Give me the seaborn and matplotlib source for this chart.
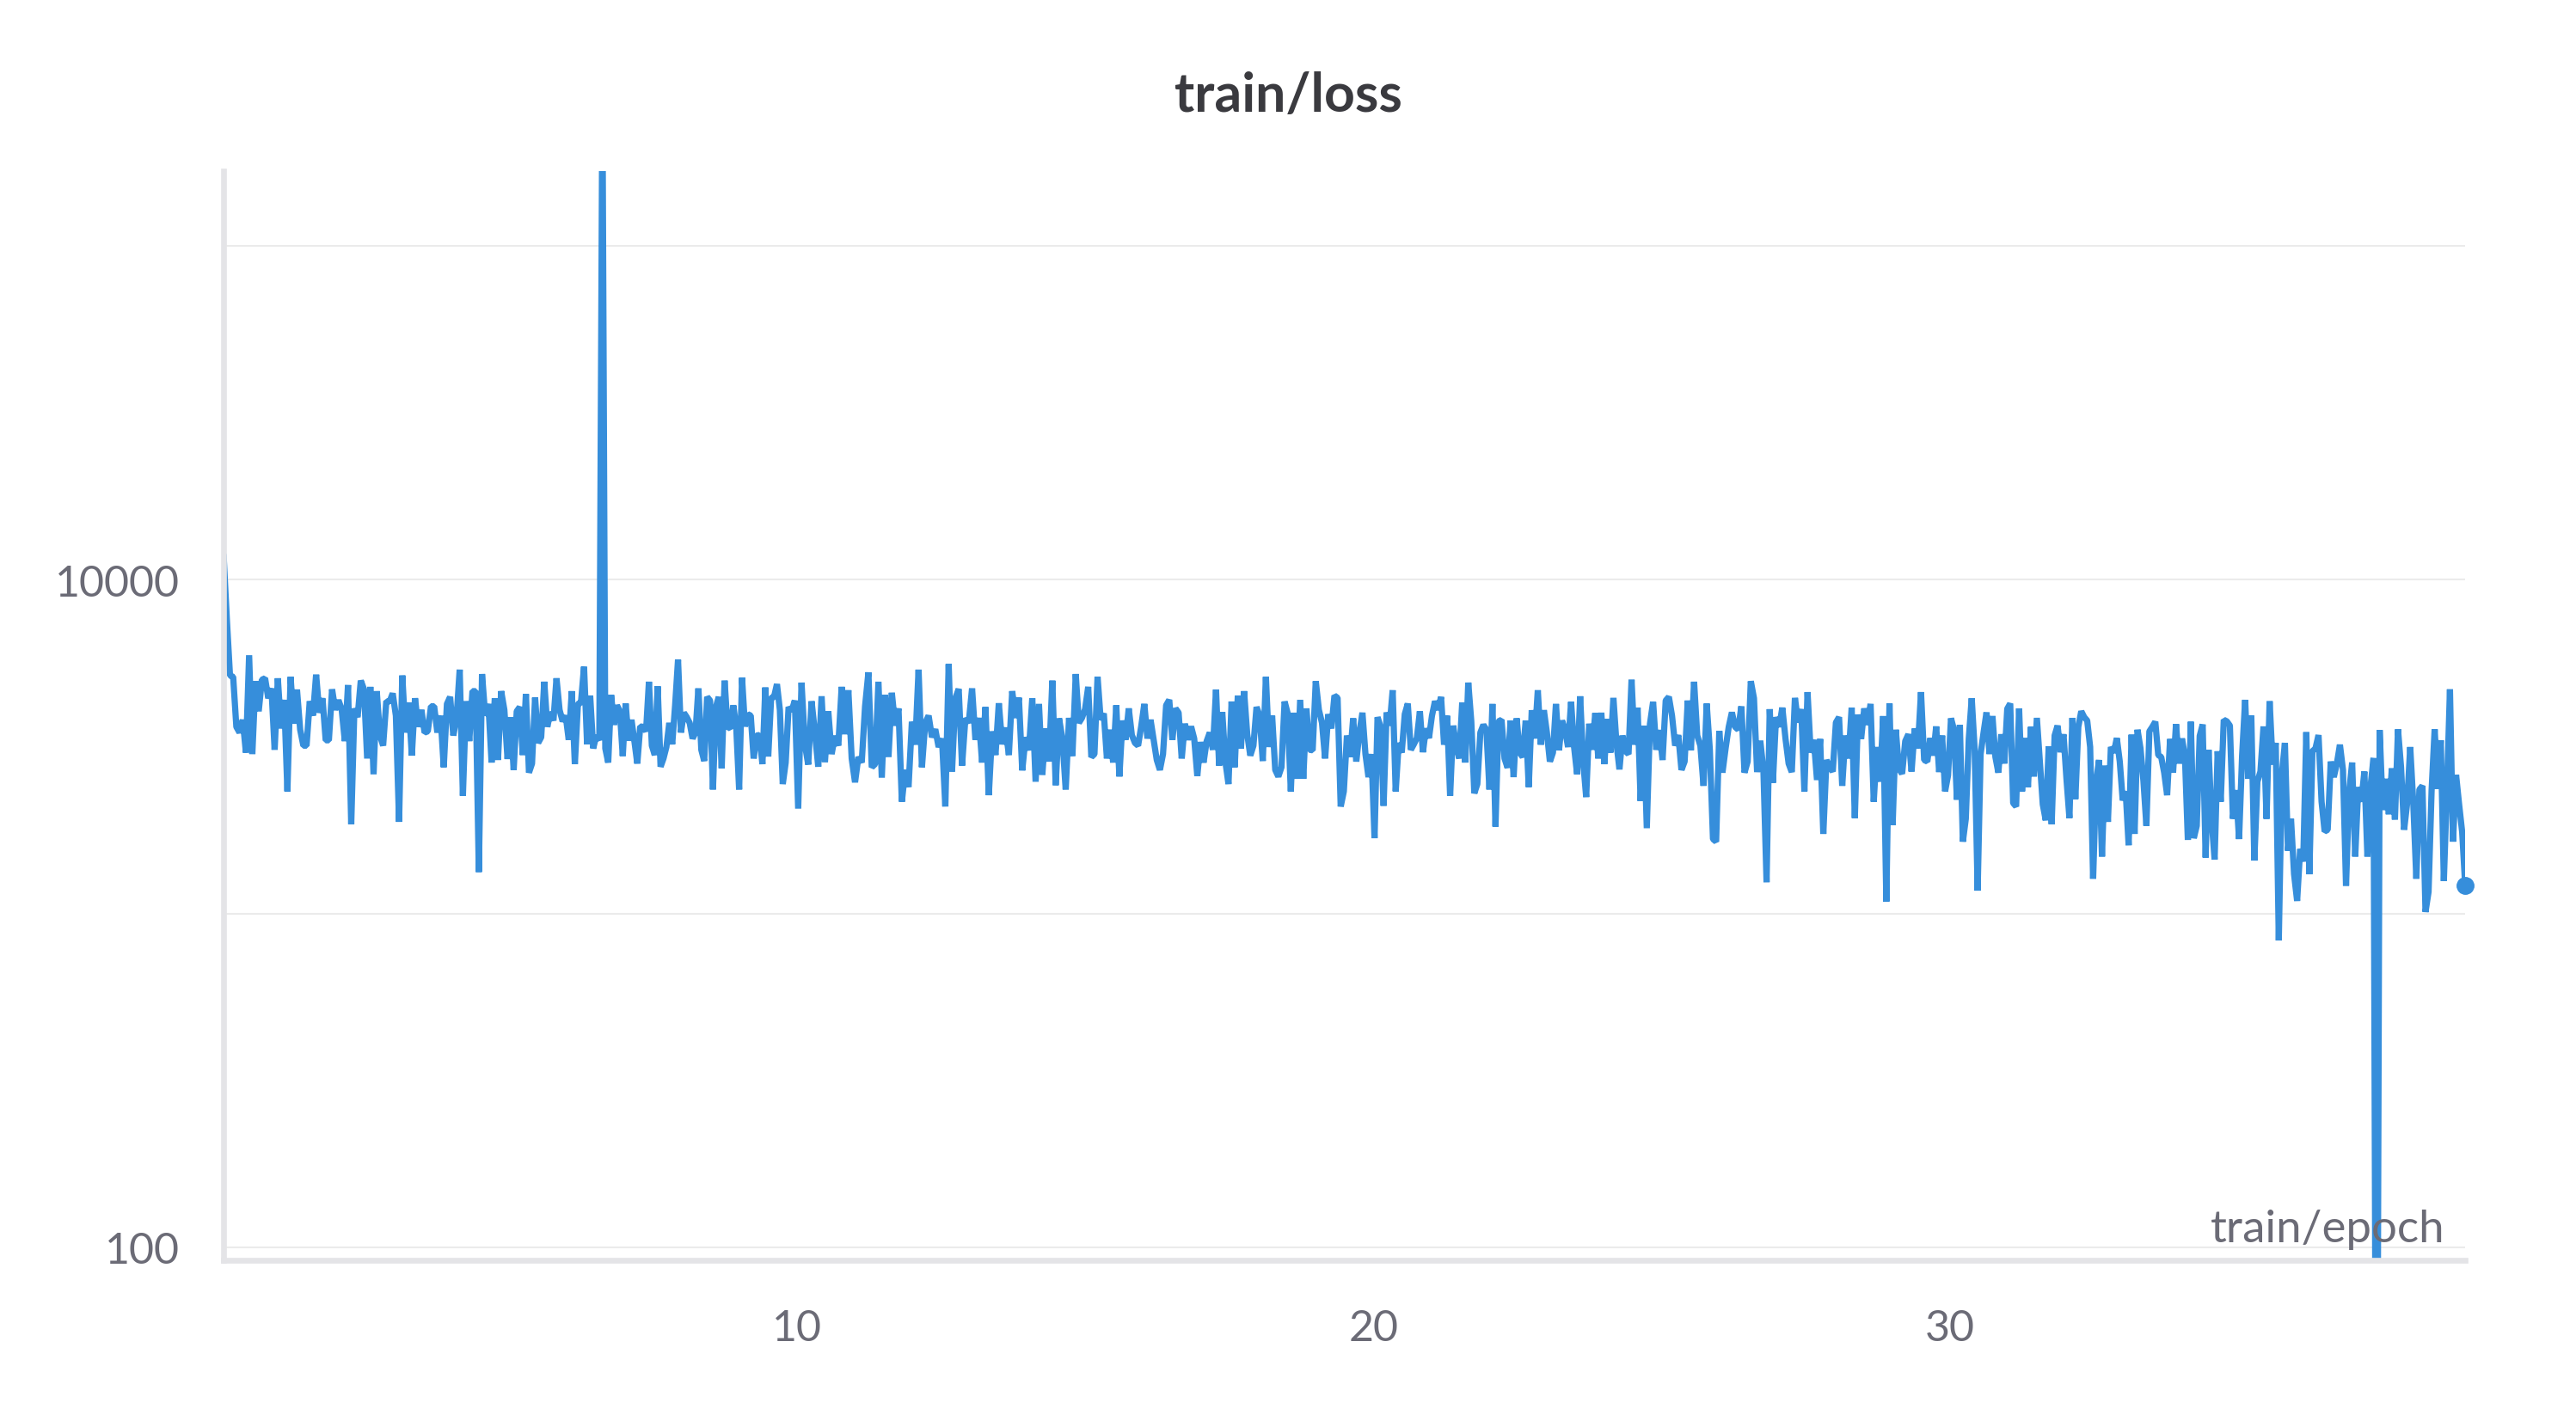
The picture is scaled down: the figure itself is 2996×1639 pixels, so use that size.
import numpy as np
import matplotlib
matplotlib.use("Agg")
import matplotlib.pyplot as plt
import seaborn as sns
from matplotlib.ticker import FixedLocator, NullFormatter

# train/loss, in chunks of a few epochs each
seg_bounds = [0.06, 4.985, 6.63, 9.91, 14.84, 19.76, 24.69, 29.61, 34.54, 38.94]

loss_seg1 = [11830, 7660, 5160, 5110, 3620, 3480, 3800, 3030, 5930, 3000, 4960, 4030, 5010, 5060, 4410,
             4720, 3090, 5060, 3580, 4360, 2320, 5110, 3700, 4680, 3550, 3180, 3180, 4320, 3910, 5190,
             3990, 4410, 3300, 3300, 4690, 4070, 4350, 4090, 3280, 4830, 1850, 4110, 3870, 4980, 4690,
             2910, 4770, 2610, 4630, 3410, 3180, 4320, 4300, 4560, 3910, 1880, 5160, 3480, 4280, 2970,
             4410, 3620, 4070, 3480, 3510, 4170, 4170, 3480, 3910, 2740, 4240, 4450, 3410, 3840, 5370,
             2250, 4320, 3280, 4630, 4630, 1330, 5210, 3910, 4240, 2830, 4410, 2880, 4630, 4070]
loss_seg2a = [2900, 3870, 2690, 4030, 4150, 2980, 4540, 2640, 2810, 4430, 3240, 3370, 4940, 3620, 4010,
              3780, 5060, 4070, 3760, 3910, 3310, 4630, 2800, 4240, 4280, 5480, 3210, 4490, 3120, 3410,
              3300]
# the spike at ~6.6 epochs runs off the top of the chart
loss_seg2b = [300000, 3120, 2830, 4510, 3670, 4200, 4030, 2960, 4250, 3290, 3800, 3280, 2810, 3630,
              3620, 3510, 4940, 3180, 2980, 4790, 2750, 2910, 3150, 3720, 3210, 4200, 5750, 3480, 3990,
              3870, 3720, 3340, 3480, 4720, 3090, 2860, 4450, 4340, 2350, 4150, 4450, 2720, 4980, 3620,
              3580, 4200, 3620, 2350, 5080, 3630, 3950, 3910, 2910, 3410, 3420, 2800, 4750, 2950, 4420,
              4450, 4860, 4070, 2440, 2830, 4150]
loss_seg3 = [4030, 4340, 2060, 4910, 3210, 2790, 4320, 3480, 2750, 4470, 2840, 4030, 3000, 3400, 3180,
             4770, 3440, 4660, 2910, 2470, 2940, 2830, 4170, 5270, 2740, 2800, 4940, 2550, 4510, 2940,
             4580, 3650, 4110, 2160, 2690, 2390, 3750, 3200, 5370, 2740, 3720, 3910, 3370, 3560, 3150,
             3340, 2090, 5580, 2660, 4410, 4700, 2770, 3840, 3720, 4720, 3310, 3850, 2830, 4150, 2260,
             3510, 2980, 4260, 3210, 3600, 2980, 4630, 3850, 4430, 2680, 3370, 3080, 4410, 2480, 4240,
             2600, 3580, 2850, 4980, 2420, 3840, 3340, 2350, 3850, 2960]
loss_seg4 = [5210, 3720, 3850, 4090, 4770, 2940, 3000, 5110, 3800, 3970, 2910, 3550, 2830, 4200, 2570,
             3780, 3310, 4110, 3420, 3240, 3180, 3630, 4240, 3340, 3800, 3310, 2880, 2690, 3000, 4200,
             4360, 3310, 4110, 3990, 2910, 3700, 3310, 3630, 3340, 2580, 3260, 2830, 3280, 3480, 3090,
             4680, 2770, 4010, 2850, 2440, 4310, 2740, 4490, 3120, 4630, 3450, 2970, 3180, 4150, 3910,
             2860, 5110, 3150, 3910, 2690, 2570, 2740, 4310, 3970, 2320, 3990, 2530, 4360, 2530, 4110,
             3090, 3080, 4960, 4070, 3720, 2910, 3950, 3580, 4490, 4420, 2090, 2320, 3410, 2940, 3840,
             2850]
loss_seg5 = [3480, 3990, 3000, 2560, 3000, 1680, 3870, 3620, 2100, 4000, 3650, 4660, 2320, 3240, 3030,
             3950, 4250, 3090, 3210, 3350, 4030, 3040, 3580, 3350, 3910, 4320, 4070, 4450, 3200, 3910,
             2250, 3650, 3180, 2910, 4280, 2830, 4910, 3760, 2290, 2440, 3480, 3670, 3550, 2350, 4240,
             1820, 3760, 3800, 2910, 2730, 3780, 2560, 3840, 3030, 2940, 3780, 2390, 4060, 3340, 4660,
             3200, 4060, 3480, 2850, 3030, 4240, 3080, 3780, 3550, 3150, 4300, 3150, 2610, 4470, 2850,
             2230, 3700, 3090, 3980, 2910, 3990, 2800, 3820, 3030, 4420, 3240, 2700, 3410, 3060, 3000,
             5010, 3200, 4130, 2170]
loss_seg6 = [3650, 1800, 3690, 4300, 3090, 3540, 2880, 4340, 4450, 3910, 3180, 3420, 2690, 2850, 4340,
             3080, 4940, 3410, 3180, 2410, 4250, 3090, 1670, 1640, 3520, 2640, 3120, 3620, 4000, 3620,
             3550, 4170, 2640, 2850, 4960, 4410, 2650, 3290, 2690, 1240, 4090, 2460, 3870, 3620, 4130,
             3340, 2810, 2650, 4420, 3730, 4090, 2320, 4600, 3030, 3310, 2510, 3330, 1730, 2880, 2740,
             2660, 3730, 3870, 2410, 3410, 2910, 4130, 1930, 3940, 3330, 4110, 3670, 4240, 2160, 3150,
             2480, 3900, 1085, 4250, 1840, 3550, 2710, 2620, 3280, 3440, 2660, 3580, 3120, 4600, 2880]
loss_seg7 = [2850, 3350, 2970, 3630, 2650, 3410, 2320, 2590, 3840, 3550, 2190, 3670, 1640, 1920, 3330,
             4410, 3090, 1170, 3000, 3480, 4000, 3000, 3900, 2940, 2640, 3440, 2810, 4100, 4250, 2140,
             2090, 4110, 2320, 3350, 2390, 3620, 2570, 3850, 2850, 2120, 1900, 3160, 1850, 3410, 3650,
             3040, 3440, 2530, 1930, 3850, 2200, 3620, 4030, 3870, 3780, 3150, 1270, 2480, 2880, 1480,
             2770, 1880, 3150, 3030, 3350, 2850, 2180, 2320, 1600, 3430, 1730, 3550, 3120, 2490, 1830,
             3510, 3620, 3750, 2980, 2940, 2640, 2260, 3330, 2640, 3690, 2810, 3340, 2970, 1660, 3750,
             1680, 1830, 3400, 3680, 1470, 3090]
# includes the drop near epoch 37.4 that runs off the bottom of the chart
loss_seg8 = [1920, 1450, 3060, 2160, 3800, 3760, 3650, 1920, 2340, 1670, 2970, 4360, 2530, 3910, 1440,
             2480, 2660, 3630, 1920, 4320, 2790, 3240, 830, 2610, 3240, 1540, 1920, 1310, 1090, 1560,
             1430, 3490, 1310, 3060, 3120, 3420, 2160, 1760, 1780, 2850, 2560, 2810, 3200, 2690, 1210,
             2290, 2830, 1480, 2390, 2160, 2660, 1480, 2390, 2920, 5, 3540, 2040, 2530, 1980, 2720,
             1910, 3560, 2740, 1780, 2140, 3150, 2140, 1270, 2350, 2410, 1010, 1160, 2340, 3560, 2360,
             3300, 1250, 2340, 4690, 1640, 2600, 2120, 1750, 1210]

segments = [loss_seg1, loss_seg2a, loss_seg2b, loss_seg3, loss_seg4, loss_seg5, loss_seg6,
            loss_seg7, loss_seg8]

x_ticks = [10, 20, 30]
y_ticks = [100, 10000]
y_tick_labels = ["100", "10000"]
y_grid_extra = [1000, 100000]

# epochs are logged at a steady step rate within each chunk
epochs, losses = [], []
for i, seg in enumerate(segments):
    last = i == len(segments) - 1
    epochs.extend(np.linspace(seg_bounds[i], seg_bounds[i + 1], len(seg), endpoint=last))
    losses.extend(seg)
epochs = np.array(epochs)
losses = np.array(losses, dtype=float)

sns.set_theme(style="white")
plt.rcParams["font.family"] = ["Lato", "DejaVu Sans"]

LINE = "#368edb"
GREY_TXT = "#6b6b76"
AXIS = "#e4e4e7"
GRID = "#ebebeb"

fig = plt.figure(figsize=(29.96, 16.4), dpi=100)
ax = fig.add_axes([0.0868, 0.1055, 0.8702, 0.7725])

sns.lineplot(x=epochs, y=losses, ax=ax, color=LINE, linewidth=5.2,
             estimator=None, sort=False, solid_joinstyle="bevel")
ax.plot(epochs[-1], losses[-1], "o", color=LINE, markersize=14, clip_on=False, zorder=5)

ax.set_yscale("log")
ax.set_ylim(91.5, 167000)
ax.set_xlim(seg_bounds[0], seg_bounds[-1])

ax.set_xticks(x_ticks)
ax.set_xticklabels([str(t) for t in x_ticks])
ax.yaxis.set_major_locator(FixedLocator(y_ticks))
ax.set_yticklabels(y_tick_labels)
ax.yaxis.set_minor_locator(FixedLocator(y_grid_extra))
ax.yaxis.set_minor_formatter(NullFormatter())

ax.grid(False)
ax.grid(axis="y", which="both", color=GRID, linewidth=1.5)
ax.set_axisbelow(True)

for side in ["top", "right"]:
    ax.spines[side].set_visible(False)
for side in ["left", "bottom"]:
    ax.spines[side].set_color(AXIS)
    ax.spines[side].set_linewidth(4.8)

ax.tick_params(axis="both", which="major", direction="inout", length=33, width=2,
               color="#e6e6e9", labelcolor=GREY_TXT, labelsize=36, pad=20)
ax.tick_params(axis="x", which="major", pad=24)
ax.tick_params(axis="y", which="minor", length=0)

ax.set_xlabel("")
ax.set_ylabel("")
ax.text(0.991, 0.017, "train/epoch", transform=ax.transAxes, ha="right", va="baseline",
        fontsize=38, color=GREY_TXT)

fig.text(0.5, 0.932, "train/loss", ha="center", va="center", fontsize=45,
         fontweight="bold", color="#3a3a3f")

fig.savefig("out.png", dpi=100, facecolor="white")
